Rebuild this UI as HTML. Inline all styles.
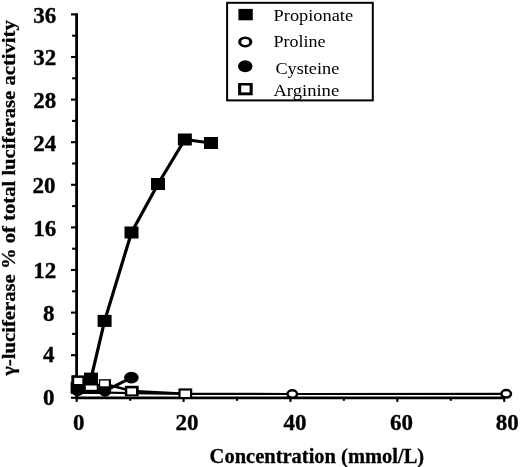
<!DOCTYPE html><html><head><meta charset="utf-8"><style>html,body{margin:0;padding:0;background:#fff}svg{display:block}text{font-family:"Liberation Serif",serif;fill:#000}</style></head><body>
<svg width="520" height="467" viewBox="0 0 520 467">
<defs><filter id="soft" x="0" y="0" width="520" height="467" filterUnits="userSpaceOnUse"><feGaussianBlur stdDeviation="0.45"/></filter></defs>
<rect width="520" height="467" fill="#fff"/>
<g filter="url(#soft)">
<path d="M76.6 13.3 V397.8 H505" fill="none" stroke="#000" stroke-width="2.8"/>
<line x1="71" y1="397.80" x2="76.6" y2="397.80" stroke="#000" stroke-width="2.1"/>
<line x1="72.1" y1="376.50" x2="76.6" y2="376.50" stroke="#000" stroke-width="2.1"/>
<line x1="71" y1="355.20" x2="76.6" y2="355.20" stroke="#000" stroke-width="2.1"/>
<line x1="72.1" y1="333.90" x2="76.6" y2="333.90" stroke="#000" stroke-width="2.1"/>
<line x1="71" y1="312.60" x2="76.6" y2="312.60" stroke="#000" stroke-width="2.1"/>
<line x1="72.1" y1="291.30" x2="76.6" y2="291.30" stroke="#000" stroke-width="2.1"/>
<line x1="71" y1="270.00" x2="76.6" y2="270.00" stroke="#000" stroke-width="2.1"/>
<line x1="72.1" y1="248.70" x2="76.6" y2="248.70" stroke="#000" stroke-width="2.1"/>
<line x1="71" y1="227.40" x2="76.6" y2="227.40" stroke="#000" stroke-width="2.1"/>
<line x1="72.1" y1="206.10" x2="76.6" y2="206.10" stroke="#000" stroke-width="2.1"/>
<line x1="71" y1="184.80" x2="76.6" y2="184.80" stroke="#000" stroke-width="2.1"/>
<line x1="72.1" y1="163.50" x2="76.6" y2="163.50" stroke="#000" stroke-width="2.1"/>
<line x1="71" y1="142.20" x2="76.6" y2="142.20" stroke="#000" stroke-width="2.1"/>
<line x1="72.1" y1="120.90" x2="76.6" y2="120.90" stroke="#000" stroke-width="2.1"/>
<line x1="71" y1="99.60" x2="76.6" y2="99.60" stroke="#000" stroke-width="2.1"/>
<line x1="72.1" y1="78.30" x2="76.6" y2="78.30" stroke="#000" stroke-width="2.1"/>
<line x1="71" y1="57.00" x2="76.6" y2="57.00" stroke="#000" stroke-width="2.1"/>
<line x1="72.1" y1="35.70" x2="76.6" y2="35.70" stroke="#000" stroke-width="2.1"/>
<line x1="71" y1="14.40" x2="76.6" y2="14.40" stroke="#000" stroke-width="2.1"/>
<line x1="76.70" y1="397.8" x2="76.70" y2="401.9" stroke="#000" stroke-width="2.1"/>
<line x1="130.14" y1="397.8" x2="130.14" y2="400.8" stroke="#000" stroke-width="2.1"/>
<line x1="183.58" y1="397.8" x2="183.58" y2="401.9" stroke="#000" stroke-width="2.1"/>
<line x1="237.02" y1="397.8" x2="237.02" y2="400.8" stroke="#000" stroke-width="2.1"/>
<line x1="290.46" y1="397.8" x2="290.46" y2="401.9" stroke="#000" stroke-width="2.1"/>
<line x1="343.90" y1="397.8" x2="343.90" y2="400.8" stroke="#000" stroke-width="2.1"/>
<line x1="397.34" y1="397.8" x2="397.34" y2="401.9" stroke="#000" stroke-width="2.1"/>
<line x1="450.78" y1="397.8" x2="450.78" y2="400.8" stroke="#000" stroke-width="2.1"/>
<line x1="504.22" y1="397.8" x2="504.22" y2="401.9" stroke="#000" stroke-width="2.1"/>
<text x="54.6" y="405.20" font-size="23" font-weight="bold" stroke="#000" stroke-width="0.35" text-anchor="end">0</text>
<text x="54.6" y="362.20" font-size="23" font-weight="bold" stroke="#000" stroke-width="0.35" text-anchor="end">4</text>
<text x="54.6" y="320.60" font-size="23" font-weight="bold" stroke="#000" stroke-width="0.35" text-anchor="end">8</text>
<text x="56.3" y="278.30" font-size="23" font-weight="bold" stroke="#000" stroke-width="0.35" text-anchor="end">12</text>
<text x="56.3" y="235.70" font-size="23" font-weight="bold" stroke="#000" stroke-width="0.35" text-anchor="end">16</text>
<text x="55.6" y="193.10" font-size="23" font-weight="bold" stroke="#000" stroke-width="0.35" text-anchor="end">20</text>
<text x="56.3" y="150.50" font-size="23" font-weight="bold" stroke="#000" stroke-width="0.35" text-anchor="end">24</text>
<text x="56.3" y="107.90" font-size="23" font-weight="bold" stroke="#000" stroke-width="0.35" text-anchor="end">28</text>
<text x="56.3" y="65.30" font-size="23" font-weight="bold" stroke="#000" stroke-width="0.35" text-anchor="end">32</text>
<text x="56.3" y="22.70" font-size="23" font-weight="bold" stroke="#000" stroke-width="0.35" text-anchor="end">36</text>
<text x="78.8" y="430.3" font-size="23" font-weight="bold" stroke="#000" stroke-width="0.35" text-anchor="middle">0</text>
<text x="186.9" y="430.3" font-size="23" font-weight="bold" stroke="#000" stroke-width="0.35" text-anchor="middle">20</text>
<text x="294.9" y="430.3" font-size="23" font-weight="bold" stroke="#000" stroke-width="0.35" text-anchor="middle">40</text>
<text x="401.6" y="430.3" font-size="23" font-weight="bold" stroke="#000" stroke-width="0.35" text-anchor="middle">60</text>
<text x="507.2" y="430.3" font-size="23" font-weight="bold" stroke="#000" stroke-width="0.35" text-anchor="middle">80</text>
<text x="209.6" y="462.6" font-size="21" font-weight="bold" stroke="#000" stroke-width="0.3" textLength="214.6" lengthAdjust="spacingAndGlyphs">Concentration (mmol/L)</text>
<text transform="translate(15.3,375.7) rotate(-90)" font-size="19.6" font-weight="bold" stroke="#000" stroke-width="0.3" textLength="355.5" lengthAdjust="spacingAndGlyphs">γ-luciferase % of total luciferase activity</text>
<path d="M77.60 392.00 L131.00 393.20 L185.00 393.90 L292.30 394.00 L506.20 393.80" fill="none" stroke="#000" stroke-width="2.2" stroke-linejoin="round"/>
<path d="M72 392 H110" stroke="#000" stroke-width="4.2"/>
<path d="M77.60 390.50 L91.00 387.00 L105.00 391.00 L131.40 377.60" fill="none" stroke="#000" stroke-width="3" stroke-linejoin="round"/>
<path d="M77.60 387.80 L91.00 378.60 L104.60 320.90 L131.50 232.50 L158.00 184.00 L184.85 139.50 L211.00 143.00" fill="none" stroke="#000" stroke-width="3.2" stroke-linejoin="round"/>
<path d="M77.60 380.60 L91.30 387.00 L105.00 384.00 L131.80 391.00 L185.30 393.60" fill="none" stroke="#000" stroke-width="2.4" stroke-linejoin="round"/>
<rect x="70.60" y="381.80" width="14" height="12" fill="#000"/>
<rect x="84.00" y="372.60" width="14" height="12" fill="#000"/>
<rect x="97.60" y="314.90" width="14" height="12" fill="#000"/>
<rect x="124.50" y="226.50" width="14" height="12" fill="#000"/>
<rect x="151.00" y="178.00" width="14" height="12" fill="#000"/>
<rect x="177.85" y="133.50" width="14" height="12" fill="#000"/>
<rect x="204.00" y="137.00" width="14" height="12" fill="#000"/>
<ellipse cx="77.60" cy="390.50" rx="6.3" ry="5.8" fill="#000"/>
<ellipse cx="91.00" cy="387.00" rx="6.3" ry="5.8" fill="#000"/>
<ellipse cx="105.00" cy="391.00" rx="6.3" ry="5.8" fill="#000"/>
<ellipse cx="131.40" cy="377.60" rx="7.3" ry="5.8" fill="#000"/>
<ellipse cx="292.30" cy="394.00" rx="4.8" ry="3.7" fill="#fff" stroke="#000" stroke-width="2.5"/>
<ellipse cx="506.20" cy="393.80" rx="4.8" ry="3.7" fill="#fff" stroke="#000" stroke-width="2.5"/>
<rect x="71.3" y="375.4" width="12.70" height="10.40" fill="#000"/>
<rect x="74.2" y="377.9" width="8.10" height="6.10" fill="#fff"/>
<rect x="84.2" y="383.5" width="14.20" height="7.00" fill="#000"/>
<rect x="85.8" y="385.5" width="10.90" height="4.30" fill="#fff"/>
<rect x="98.9" y="379.2" width="12.10" height="9.50" fill="#000"/>
<rect x="100.2" y="380.6" width="8.60" height="5.70" fill="#fff"/>
<rect x="124.9" y="385.8" width="13.80" height="10.40" fill="#000"/>
<rect x="127.3" y="388.4" width="8.70" height="6.00" fill="#fff"/>
<rect x="178.4" y="388.4" width="13.80" height="10.30" fill="#000"/>
<rect x="180.6" y="390.6" width="9.40" height="6.40" fill="#fff"/>
<rect x="227.1" y="2.8" width="145.7" height="97.6" fill="#fff" stroke="#000" stroke-width="2"/>
<rect x="238.4" y="8.9" width="14.4" height="11.4" fill="#000"/>
<ellipse cx="245.25" cy="41.95" rx="7.1" ry="5.45" fill="#000"/>
<ellipse cx="245.25" cy="41.95" rx="4.0" ry="2.95" fill="#fff"/>
<ellipse cx="245.25" cy="66.2" rx="7.2" ry="6" fill="#000"/>
<rect x="238.1" y="83" width="14.6" height="12.3" fill="#000"/>
<rect x="241.2" y="85.5" width="8.4" height="6.9" fill="#fff"/>
<text x="273.6" y="21.2" font-size="17.1" textLength="79.5" lengthAdjust="spacingAndGlyphs">Propionate</text>
<text x="273.6" y="47.4" font-size="17.1" textLength="51.9" lengthAdjust="spacingAndGlyphs">Proline</text>
<text x="275.4" y="73.6" font-size="17.1" textLength="63.9" lengthAdjust="spacingAndGlyphs">Cysteine</text>
<text x="273.4" y="95.6" font-size="17.1" textLength="65.8" lengthAdjust="spacingAndGlyphs">Arginine</text>
</g>
</svg></body></html>
